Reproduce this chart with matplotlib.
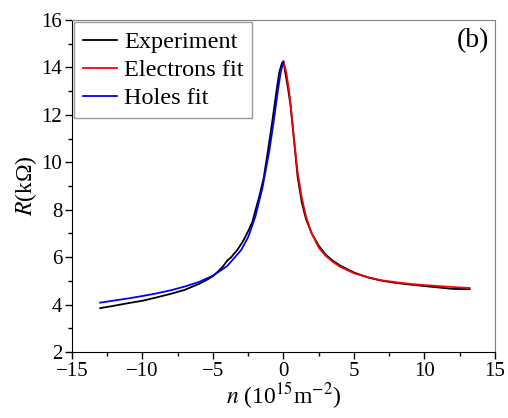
import matplotlib
matplotlib.use("Agg")
import matplotlib.pyplot as plt
from matplotlib.ticker import MultipleLocator

plt.rcParams["font.family"] = ["Liberation Serif", "DejaVu Serif"]
plt.rcParams["mathtext.fontset"] = "stix"

# experiment R(n), kOhm vs 10^15 m^-2
exp_n = [-13.0, -12.0, -11.0, -10.0, -9.0, -8.0, -7.0, -6.0, -5.5, -5.0, -4.6, -4.3,
         -4.0, -3.7, -3.5, -3.3, -3.0, -2.8, -2.5, -2.2, -2.0, -1.7, -1.4, -1.1,
         -0.8, -0.5, -0.3, -0.1, 0.0, 0.15, 0.3, 0.5, 0.8, 1.0, 1.3, 1.6, 2.0,
         2.5, 3.0, 3.5, 4.0, 5.0, 6.0, 7.0, 8.0, 9.0, 10.0, 11.0, 12.0, 13.2]
exp_R = [3.85, 3.95, 4.06, 4.16, 4.3, 4.45, 4.62, 4.87, 5.02, 5.2, 5.42, 5.6,
         5.85, 6.0, 6.15, 6.28, 6.55, 6.75, 7.1, 7.5, 7.95, 8.6, 9.35, 10.5,
         11.7, 13.0, 13.8, 14.2, 14.25, 13.7, 13.2, 12.4, 10.6, 9.4, 8.3, 7.6, 7.0,
         6.48, 6.1, 5.85, 5.65, 5.35, 5.14, 5.0, 4.91, 4.84, 4.78, 4.72, 4.66, 4.65]

# electrons fit (n > 0)
el_n = [0.0, 0.2, 0.4, 0.6, 0.8, 1.0, 1.3, 1.6, 2.0, 2.5, 3.0, 3.5, 4.0, 5.0,
        6.0, 7.0, 8.0, 9.0, 10.0, 11.0, 12.0, 13.2]
el_R = [14.25, 13.8, 13.0, 11.9, 10.7, 9.6, 8.5, 7.7, 7.0, 6.4, 6.05, 5.8, 5.6, 5.32,
        5.15, 5.02, 4.94, 4.87, 4.82, 4.78, 4.74, 4.7]

# holes fit (n < 0)
ho_n = [-13.0, -12.0, -11.0, -10.0, -9.0, -8.0, -7.0, -6.0, -5.0, -4.0, -3.0, -2.5,
        -2.0, -1.5, -1.0, -0.7, -0.4, -0.2, 0.0]
ho_R = [4.08, 4.17, 4.26, 4.36, 4.47, 4.6, 4.76, 4.95, 5.22, 5.62, 6.3, 6.85,
        7.7, 8.9, 10.5, 11.7, 13.0, 13.8, 14.25]

fig = plt.figure(figsize=(5.08, 4.18), dpi=100)
ax = fig.add_axes([0.1417, 0.158, 0.8327, 0.794])

ax.plot(exp_n, exp_R, color="black", lw=1.3, label="Experiment")
ax.plot(el_n, el_R, color="red", lw=1.3, label="Electrons fit")
ax.plot(ho_n, ho_R, color="blue", lw=1.3, label="Holes fit")

ax.set_xlim(-15, 15)
ax.set_ylim(2, 16)
ax.xaxis.set_major_locator(MultipleLocator(5))
ax.xaxis.set_minor_locator(MultipleLocator(2.5))
ax.yaxis.set_major_locator(MultipleLocator(2))
ax.yaxis.set_minor_locator(MultipleLocator(1))
ax.tick_params(which="major", direction="out", length=5, width=1, labelsize=15, pad=2)
ax.tick_params(which="minor", direction="out", length=3, width=1)
for s in ("top", "right"):
    ax.spines[s].set_color("#808080")

ax.set_xlabel(r"$n$ (10$^{15}$m$^{-2}$)", fontsize=17, labelpad=0)
ax.set_ylabel(r"$R$(kΩ)", fontsize=17, labelpad=2)

ax.text(0.985, 0.975, "(b)", transform=ax.transAxes, ha="right", va="top", fontsize=20)

leg = ax.legend(loc="upper left", fontsize=17.5, frameon=True, fancybox=False,
                edgecolor="#808080", borderaxespad=0.1, borderpad=0.35,
                labelspacing=0.25, handlelength=1.4, handletextpad=0.3)
leg.get_frame().set_linewidth(1.0)

fig.savefig("out.png", dpi=100)
